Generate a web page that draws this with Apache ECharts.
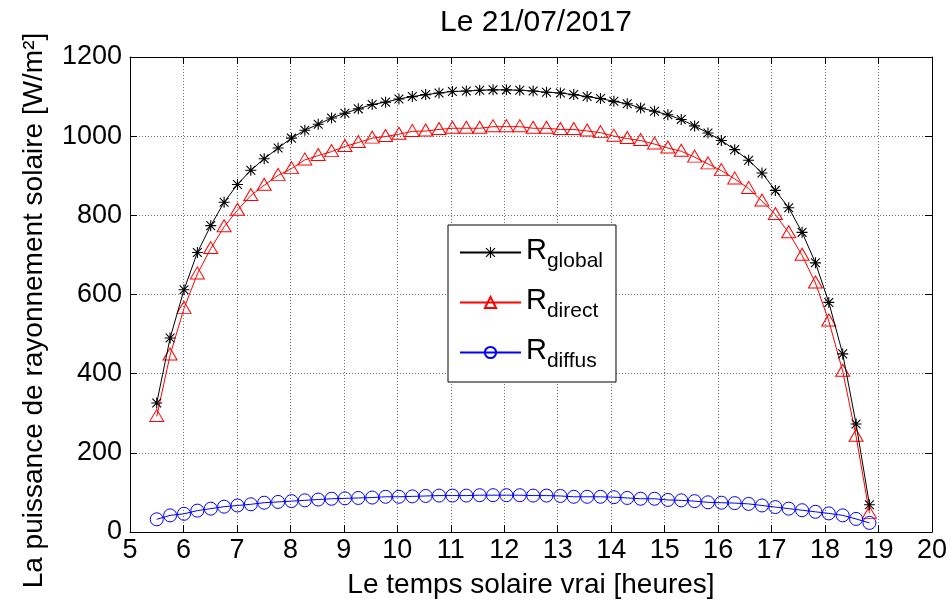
<!DOCTYPE html>
<html>
<head>
<meta charset="utf-8">
<script src="https://cdn.jsdelivr.net/npm/echarts@6/dist/echarts.min.js"></script>
<style>
  html, body { margin: 0; padding: 0; background: #fff; }
  #chart { width: 952px; height: 608px; }
</style>
</head>
<body>
<div id="chart"></div>
<script>
// Solar time (hours) of each computed point
const hours = [5.50, 5.75, 6.01, 6.26, 6.51, 6.76, 7.01, 7.26, 7.51, 7.77,
  8.02, 8.27, 8.52, 8.77, 9.02, 9.27, 9.53, 9.78, 10.03, 10.28,
  10.53, 10.78, 11.03, 11.29, 11.54, 11.79, 12.04, 12.29, 12.54, 12.79,
  13.05, 13.30, 13.55, 13.80, 14.05, 14.30, 14.55, 14.81, 15.06, 15.31,
  15.56, 15.81, 16.06, 16.31, 16.57, 16.82, 17.07, 17.32, 17.57, 17.82,
  18.07, 18.33, 18.58, 18.83];

// Global irradiance [W/m²]
const rGlobal = [326, 490, 612, 706, 774, 833, 878, 914, 943, 970,
  995, 1015, 1030, 1046, 1058, 1069, 1080, 1086, 1094, 1100,
  1105, 1109, 1113, 1114, 1116, 1117, 1117, 1116, 1114, 1111,
  1109, 1105, 1100, 1095, 1088, 1082, 1071, 1063, 1054, 1042,
  1026, 1008, 989, 966, 939, 907, 863, 819, 757, 680,
  580, 450, 273, 69];

// Direct irradiance [W/m²]
const rDirect = [292, 447, 565, 652, 716, 771, 813, 850, 876, 901,
  918, 940, 951, 961, 974, 984, 995, 999, 1005, 1012,
  1013, 1017, 1020, 1020, 1020, 1024, 1024, 1024, 1020, 1020,
  1017, 1017, 1013, 1009, 1000, 994, 989, 980, 970, 962,
  947, 930, 913, 892, 868, 836, 802, 756, 699, 629,
  533, 406, 242, 47];

// Diffuse irradiance [W/m²]
const rDiffus = [32, 42, 46, 54, 59, 64, 67, 70, 74, 76,
  78, 80, 82, 84, 85, 86, 87, 89, 89, 90,
  91, 92, 92, 92, 93, 93, 93, 93, 92, 92,
  91, 89, 89, 89, 88, 86, 84, 84, 81, 80,
  78, 75, 74, 73, 71, 67, 63, 59, 55, 51,
  47, 42, 33, 23];

const xTicks = { min: 5, max: 20, step: 1 };
const yTicks = { min: 0, max: 1200, step: 200 };

const seriesNames = ['global', 'direct', 'diffus'];

const FONT = "'Liberation Sans', Arial, sans-serif";

// asterisk marker built from four thin bars
const STAR = 'path://M0 9 L20 9 L20 11 L0 11 Z M9 0 L11 0 L11 20 L9 20 Z ' +
  'M2.7 1.3 L18.7 17.3 L17.3 18.7 L1.3 2.7 Z M17.3 1.3 L18.7 2.7 L2.7 18.7 L1.3 17.3 Z';

function pairs(ys) { return hours.map((h, i) => [h, ys[i]]); }

const chart = echarts.init(document.getElementById('chart'), null, { renderer: 'canvas' });

const gridLine = { show: true, lineStyle: { type: [1, 2], color: '#6e6e6e', width: 1 } };
const frame = { show: true, onZero: false, lineStyle: { color: '#000', width: 1 } };
const inTick = { show: true, inside: true, length: 7, lineStyle: { color: '#000', width: 1 } };
const plain = v => String(v);

chart.setOption({
  animation: false,
  backgroundColor: '#fff',
  textStyle: { fontFamily: FONT },
  title: {
    text: 'Le 21/07/2017',
    left: 531, top: 3, textAlign: 'center',
    textStyle: { fontFamily: FONT, fontSize: 30, fontWeight: 'normal', color: '#000' }
  },
  grid: { left: 130, right: 20, top: 57, bottom: 76, containLabel: false },
  xAxis: [{
    type: 'value', min: xTicks.min, max: xTicks.max, interval: xTicks.step,
    position: 'bottom',
    name: 'Le temps solaire vrai [heures]', nameLocation: 'middle', nameGap: 39,
    nameTextStyle: { fontFamily: FONT, fontSize: 28, color: '#000' },
    axisLine: frame, axisTick: inTick,
    axisLabel: { margin: 5, fontFamily: FONT, fontSize: 27, color: '#000', formatter: plain },
    splitLine: gridLine
  }, {
    type: 'value', min: xTicks.min, max: xTicks.max, interval: xTicks.step,
    position: 'top', axisLine: frame, axisTick: inTick,
    axisLabel: { show: false }, splitLine: { show: false }
  }],
  yAxis: [{
    type: 'value', min: yTicks.min, max: yTicks.max, interval: yTicks.step,
    position: 'left',
    name: 'La puissance de rayonnement solaire [W/m²]', nameLocation: 'middle', nameGap: 82,
    nameTextStyle: { fontFamily: FONT, fontSize: 28, color: '#000', padding: [0, 32, 0, 0] },
    axisLine: frame, axisTick: inTick,
    axisLabel: { margin: 8, fontFamily: FONT, fontSize: 27, color: '#000', formatter: plain },
    splitLine: gridLine
  }, {
    type: 'value', min: yTicks.min, max: yTicks.max, interval: yTicks.step,
    position: 'right', axisLine: frame, axisTick: inTick,
    axisLabel: { show: false }, splitLine: { show: false }
  }],
  legend: {
    orient: 'vertical', left: 448, top: 225,
    backgroundColor: '#fff', borderColor: '#000', borderWidth: 1, borderRadius: 0,
    padding: [11, 13, 10, 11],
    itemWidth: 61, itemHeight: 14, itemGap: 14,
    data: seriesNames,
    formatter: n => '{r|R}{s|' + n + '}',
    textStyle: {
      color: '#000',
      rich: {
        r: { fontFamily: FONT, fontSize: 29, color: '#000', padding: [0, 0, 4, 0] },
        s: { fontFamily: FONT, fontSize: 21, color: '#000', padding: [18, 0, 0, 0] }
      }
    }
  },
  series: [{
    name: seriesNames[0], type: 'line', data: pairs(rGlobal),
    symbol: STAR, symbolSize: 11, showAllSymbol: true,
    lineStyle: { color: '#000', width: 1 },
    itemStyle: { color: '#000' },
    emphasis: { disabled: true }, z: 3
  }, {
    name: seriesNames[1], type: 'line', data: pairs(rDirect),
    symbol: 'triangle', symbolSize: [14, 12], symbolOffset: [0, -1], showAllSymbol: true,
    lineStyle: { color: '#ff0000', width: 1 },
    itemStyle: { color: 'rgba(255,255,255,0)', borderColor: '#ff0000', borderWidth: 1 },
    emphasis: { disabled: true }, z: 2
  }, {
    name: seriesNames[2], type: 'line', data: pairs(rDiffus),
    symbol: 'circle', symbolSize: 13, showAllSymbol: true,
    lineStyle: { color: '#0000ff', width: 1 },
    itemStyle: { color: 'rgba(255,255,255,0)', borderColor: '#0000ff', borderWidth: 1 },
    emphasis: { disabled: true }, z: 2
  }]
});
</script>
</body>
</html>
